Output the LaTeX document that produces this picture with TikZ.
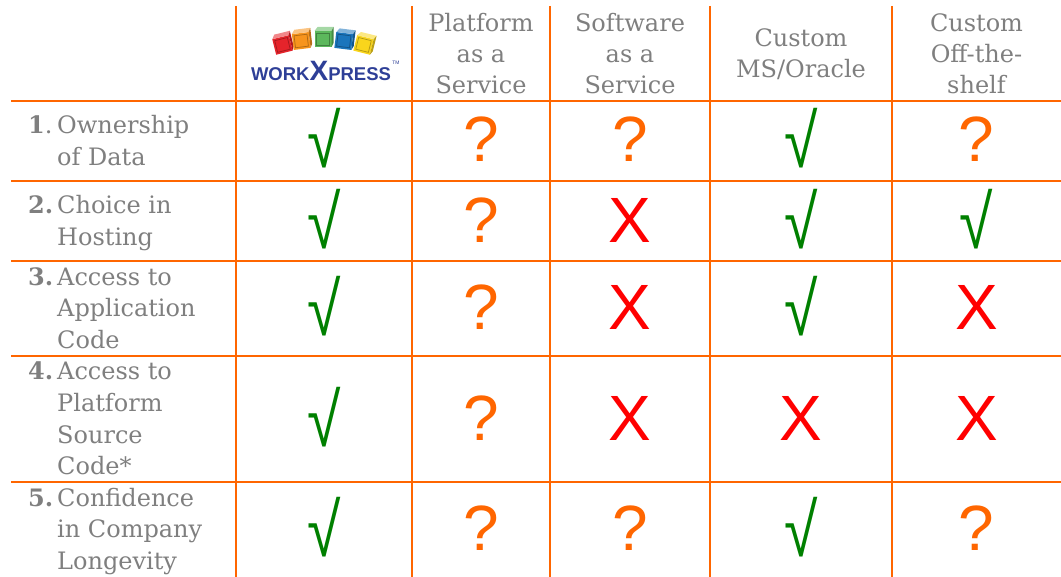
\documentclass[tikz,border=0pt]{standalone}
\usepackage{graphicx}
\usepackage{fontspec}
\setmainfont{DejaVu Serif}
\newfontfamily\symfont{Liberation Sans}
\newfontfamily\logofont{Liberation Sans}
\definecolor{gridor}{HTML}{FF6600}
\definecolor{txtgray}{HTML}{7F7F7F}
\definecolor{chkgreen}{HTML}{008000}
\definecolor{xred}{HTML}{FF0000}
\definecolor{logoblue}{HTML}{2E3F97}
\definecolor{cred}{HTML}{E5242B}
\definecolor{corange}{HTML}{F7941D}
\definecolor{cgreen}{HTML}{5CB85C}
\definecolor{cblue}{HTML}{1B75BC}
\definecolor{cyellow}{HTML}{F9D51C}
\newcommand{\logocube}[4]{%
  \begin{scope}[shift={(#1,#2)},rotate=#3]
    \fill[#4] (-8.5,-6) rectangle (8.5,10);
    \fill[#4!55!white] (-8.5,-6) -- (-5.5,-10) -- (10.5,-10) -- (8.5,-6) -- cycle;
    \fill[#4!75!black] (8.5,-6) -- (10.5,-10) -- (10.5,6) -- (8.5,10) -- cycle;
    \draw[#4!70!black,line width=0.7pt] (-6.5,-4) rectangle (6.5,8);
  \end{scope}}
\newcommand{\nb}[1]{\makebox[29pt][l]{#1}}
\newcommand{\chk}{\scalebox{0.95}[1.17]{√}}
\begin{document}
\begin{tikzpicture}[x=1pt,y=-1pt,
  gridline/.style={draw=gridor,line width=2.5pt},
  hdr/.style={text=txtgray,font=\fontsize{24}{31}\selectfont,align=center,inner sep=0pt},
  rowlab/.style={text=txtgray,font=\fontsize{24}{31.7}\selectfont,anchor=west,inner sep=0pt},
  sym/.style={font=\symfont\fontsize{64}{64}\selectfont,inner sep=0pt},
  yes/.style={sym,text=chkgreen},
  maybe/.style={sym,text=gridor},
  no/.style={sym,text=xred}]
\useasboundingbox (0,0) rectangle (1061,577);
% grid
\foreach \y in {101,181,261,356,482} \draw[gridline] (11,\y) -- (1061,\y);
\foreach \x in {236,412,550,710,892} \draw[gridline] (\x,6) -- (\x,577);
% logo
\logocube{282}{43}{14}{cred}
\logocube{301}{39}{7}{corange}
\logocube{323}{37}{0}{cgreen}
\logocube{344}{39}{-7}{cblue}
\logocube{364}{43}{-14}{cyellow}
\node[inner sep=0pt,text=logoblue,font=\logofont\bfseries\fontsize{18.5}{18.5}\selectfont] (logo) at (321,71) {WORK{\fontsize{28}{28}\selectfont X}PRESS};
\node[inner sep=0pt,text=logoblue,font=\logofont\fontsize{5}{5}\selectfont,anchor=south west] (tm) at ([yshift=-4pt,xshift=1pt]logo.north east) {TM};
% headers
\node[hdr] (h1) at (481,54) {Platform\\as a\\Service};
\node[hdr] (h2) at (630,54) {Software\\as a\\Service};
\node[hdr] (h3) at (801,54) {Custom\\MS/Oracle};
\node[hdr] (h4) at (976.5,54) {Custom\\Off-the-\\shelf};
% row labels
\node[rowlab] (r1) at (28,143) {\begin{tabular}{@{}l@{}l@{}}\nb{\textbf{1}.}&Ownership\\ &of Data\end{tabular}};
\node[rowlab] (r2) at (28,223) {\begin{tabular}{@{}l@{}l@{}}\nb{\textbf{2.}}&Choice in\\ &Hosting\end{tabular}};
\node[rowlab] (r3) at (28,310.5) {\begin{tabular}{@{}l@{}l@{}}\nb{\textbf{3.}}&Access to\\ &Application\\ &Code\end{tabular}};
\node[rowlab] (r4) at (28,421) {\begin{tabular}{@{}l@{}l@{}}\nb{\textbf{4.}}&Access to\\ &Platform\\ &Source\\ &Code*\end{tabular}};
\node[rowlab] (r5) at (28,531.5) {\begin{tabular}{@{}l@{}l@{}}\nb{\textbf{5.}}&Confidence\\ &in Company\\ &Longevity\end{tabular}};
% marks
\node[yes]   (a1) at (324,138) {\chk};
\node[maybe] (b1) at (481,139) {?};
\node[maybe] (c1) at (630,139) {?};
\node[yes]   (d1) at (801,138) {\chk};
\node[maybe] (e1) at (976.5,139) {?};
\node[yes]   (a2) at (324,219) {\chk};
\node[maybe] (b2) at (481,220) {?};
\node[no]    (c2) at (630,220) {X};
\node[yes]   (d2) at (801,219) {\chk};
\node[yes]   (e2) at (976.5,219) {\chk};
\node[yes]   (a3) at (324,306) {\chk};
\node[maybe] (b3) at (481,307) {?};
\node[no]    (c3) at (630,307) {X};
\node[yes]   (d3) at (801,306) {\chk};
\node[no]    (e3) at (976.5,307) {X};
\node[yes]   (a4) at (324,417) {\chk};
\node[maybe] (b4) at (481,418) {?};
\node[no]    (c4) at (630,418) {X};
\node[no]    (d4) at (801,418) {X};
\node[no]    (e4) at (976.5,418) {X};
\node[yes]   (a5) at (324,527) {\chk};
\node[maybe] (b5) at (481,528) {?};
\node[maybe] (c5) at (630,528) {?};
\node[yes]   (d5) at (801,527) {\chk};
\node[maybe] (e5) at (976.5,528) {?};
\end{tikzpicture}
\end{document}
